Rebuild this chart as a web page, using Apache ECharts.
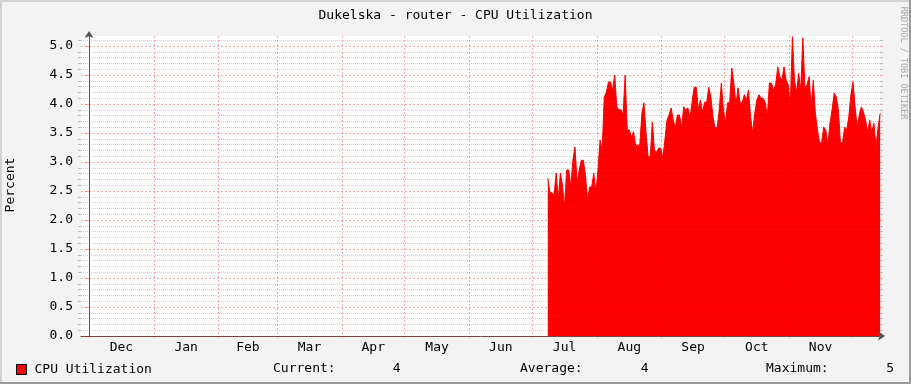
<!DOCTYPE html>
<html><head><meta charset="utf-8">
<script src="https://cdn.jsdelivr.net/npm/echarts@6/dist/echarts.min.js"></script>
<style>html,body{margin:0;padding:0;background:#F3F3F3}#c{width:911px;height:384px}</style>
</head><body><div id="c"></div>
<script>
const chartTitle = 'Dukelska - router - CPU Utilization';
const yAxisTitle = 'Percent';
const seriesName = 'CPU Utilization';
const watermark = 'RRDTOOL / TOBI OETIKER';
const monthStarts = ['2012-12-01','2013-01-01','2013-02-01','2013-03-01','2013-04-01','2013-05-01','2013-06-01','2013-07-01','2013-08-01','2013-09-01','2013-10-01','2013-11-01','2013-12-01'];
const monthLabels = ['Dec','Jan','Feb','Mar','Apr','May','Jun','Jul','Aug','Sep','Oct','Nov'];
const yMajorTicks = [0,0.5,1.0,1.5,2.0,2.5,3.0,3.5,4.0,4.5,5.0];
const yMinorTicks = [0.1,0.2,0.3,0.4,0.6,0.7,0.8,0.9,1.1,1.2,1.3,1.4,1.6,1.7,1.8,1.9,2.1,2.2,2.3,2.4,2.6,2.7,2.8,2.9,3.1,3.2,3.3,3.4,3.6,3.7,3.8,3.9,4.1,4.2,4.3,4.4,4.6,4.7,4.8,4.9,5.1];
const xRange = ['2012-11-27 04:00','2013-12-14 10:00'];
const yMax = 5.172;
const firstDay = '2013-07-08';
const cpuValues = [
 2.72,2.47,2.47,2.43,2.81,2.34,2.81,2.6,2.22,2.86,
 2.86,2.57,3.03,3.26,2.64,2.86,3.03,3.03,2.78,2.34,
 2.57,2.57,2.81,2.47,2.86,3.38,3.2,4.12,4.2,4.38,
 4.38,4.24,4.5,3.95,3.9,3.9,3.81,4.5,3.55,3.55,
 3.43,3.52,3.29,3.29,3.29,3.84,4.02,3.5,3.09,3.09,
 3.69,3.2,3.17,3.24,3.24,3.07,3.38,3.72,3.81,3.93,
 3.72,3.6,3.81,3.81,3.59,3.95,3.9,3.93,3.76,4.03,
 4.29,4.29,3.9,4.07,3.86,4.03,4.03,4.29,4.12,3.78,
 3.59,3.59,3.9,4.36,3.9,3.67,4.02,4.02,4.62,4.36,
 3.98,4.28,4.02,4.02,4.16,4.07,4.24,3.78,3.5,3.84,
 4.07,4.16,4.1,4.1,4.03,3.78,4.36,4.36,4.24,4.33,
 4.64,4.47,4.41,4.64,4.41,4.33,3.95,5.16,4.41,4.2,
 4.53,4.24,5.14,4.28,4.33,4.47,3.95,4.41,3.84,3.55,
 3.33,3.33,3.6,3.55,3.29,3.67,3.9,4.19,4.12,3.9,
 3.33,3.33,3.6,3.55,3.78,4.16,4.38,3.95,3.6,3.81,
 3.95,3.86,3.72,3.52,3.72,3.52,3.67,3.26,3.6,3.84
];
const statLabels = ['Current:','Average:','Maximum:'];

const FONT = 'DejaVu Sans Mono';
const DAY = 86400000;
function ts(s){
  const parts = s.split(' ');
  const [Y,M,D] = parts[0].split('-').map(Number);
  let h = 0, mi = 0;
  if (parts[1]) { [h, mi] = parts[1].split(':').map(Number); }
  return Date.UTC(Y, M-1, D, h, mi);
}
const origin = ts(monthStarts[0]);
const dayOf = s => (ts(s) - origin) / DAY;
const monthDays = monthStarts.map(dayOf);
const labelMids = monthLabels.map((_, i) => (monthDays[i] + monthDays[i+1]) / 2);
const d0 = dayOf(firstDay);
const seriesData = cpuValues.map((v, i) => [d0 + i + 0.5, v]);

const current = cpuValues[cpuValues.length-1];
const average = cpuValues.reduce((a,b)=>a+b,0) / cpuValues.length;
const maximum = Math.max.apply(null, cpuValues);
const statValues = [current, average, maximum].map(v => Math.round(v).toString());

const majorColor = 'rgba(255,0,0,0.33)';
const minorColor = 'rgba(0,0,0,0.18)';
const axisColor = '#555';

const chart = echarts.init(document.getElementById('c'), null, {renderer:'canvas'});
const txt = (x, y, s, align, extra) => Object.assign({
  type:'text', x:x, y:y, silent:true,
  style:{text:s, fill:'#000', font:'13px "' + FONT + '"', textAlign:align||'left', textVerticalAlign:'middle'}
}, extra||{});

const graphics = [
  {type:'rect', shape:{x:0,y:0,width:911,height:2}, style:{fill:'#D2D2D2'}, silent:true},
  {type:'rect', shape:{x:0,y:0,width:2,height:384}, style:{fill:'#D2D2D2'}, silent:true},
  {type:'rect', shape:{x:0,y:382,width:911,height:2}, style:{fill:'#9A9A9A'}, silent:true},
  {type:'rect', shape:{x:909,y:0,width:2,height:384}, style:{fill:'#9A9A9A'}, silent:true},
  txt(11, 185, yAxisTitle, 'center', {rotation: Math.PI/2}),
  {type:'text', x:903, y:63, rotation:-Math.PI/2, silent:true,
   style:{text:watermark, fill:'#A8A8A8', font:'8.5px "' + FONT + '"', textAlign:'center', textVerticalAlign:'middle'}},
  txt(273, 369, statLabels[0]), txt(400.5, 369, statValues[0], 'right'),
  txt(520, 369, statLabels[1]), txt(648.5, 369, statValues[1], 'right'),
  txt(766, 369, statLabels[2]), txt(894, 369, statValues[2], 'right')
];

const hiddenY = (pos, ticks, color, splitColor, splitType) => ({
  type:'value', min:0, max:yMax, position:pos, z:3,
  axisLine:{show:false},
  axisTick:{show:true, customValues:ticks, length:3, lineStyle:{color:color}},
  axisLabel:{show:false},
  splitLine: splitColor ? {show:true, lineStyle:{color:splitColor, type:splitType, width:1}} : {show:false}
});

chart.setOption({
  animation:false,
  backgroundColor:'#F3F3F3',
  title:{text:chartTitle, left:'center', top:4, textStyle:{fontFamily:FONT, fontSize:13, fontWeight:'normal', color:'#000'}},
  legend:{left:11, top:358, selectedMode:false, icon:'rect', itemWidth:10, itemHeight:10,
    itemStyle:{color:'#FF0000', borderColor:'#000', borderWidth:1},
    textStyle:{fontFamily:FONT, fontSize:13, color:'#000', padding:[0,0,0,3]},
    data:[seriesName]},
  grid:{left:81, right:31, top:36, bottom:48, show:true, backgroundColor:'#FFFFFF', borderWidth:0, containLabel:false},
  xAxis:{
    type:'value', min:dayOf(xRange[0]), max:dayOf(xRange[1]), z:3,
    axisLine:{show:true, onZero:false, lineStyle:{color:axisColor, width:1}, symbol:['none','arrow'], symbolSize:[7,7], symbolOffset:[0,5]},
    axisTick:{show:true, customValues:monthDays, length:2, lineStyle:{color:majorColor}},
    axisLabel:{customValues:labelMids, margin:5, fontFamily:FONT, fontSize:13, color:'#000',
      formatter:function(v){
        let best = 0, bd = Infinity;
        labelMids.forEach((m, i) => { const d = Math.abs(m - v); if (d < bd) { bd = d; best = i; } });
        return monthLabels[best];
      }},
    splitLine:{show:true, lineStyle:{color:majorColor, type:[2,2], width:1}}
  },
  yAxis:[
    {type:'value', min:0, max:yMax, position:'left', z:4,
     axisLine:{show:true, lineStyle:{color:axisColor, width:1}, symbol:['none','arrow'], symbolSize:[7,7], symbolOffset:[0,5]},
     axisTick:{show:true, customValues:yMajorTicks, length:3, lineStyle:{color:majorColor}},
     axisLabel:{customValues:yMajorTicks, margin:8, padding:[4,0,0,0], fontFamily:FONT, fontSize:13, color:'#000', formatter:v => Number(v).toFixed(1)},
     splitLine:{show:true, lineStyle:{color:majorColor, type:[2,2], width:1}}},
    hiddenY('left', yMinorTicks, '#BBBBBB', minorColor, [1,1]),
    hiddenY('right', yMajorTicks, majorColor, null),
    hiddenY('right', yMinorTicks, '#BBBBBB', null)
  ],
  series:[{
    name:seriesName, type:'line', xAxisIndex:0, yAxisIndex:0, z:1,
    data:seriesData, symbol:'none', showSymbol:false,
    lineStyle:{color:'#FF0000', width:1}, itemStyle:{color:'#FF0000'},
    areaStyle:{color:'#FF0000', opacity:1}
  }],
  graphic:graphics
});
</script></body></html>
